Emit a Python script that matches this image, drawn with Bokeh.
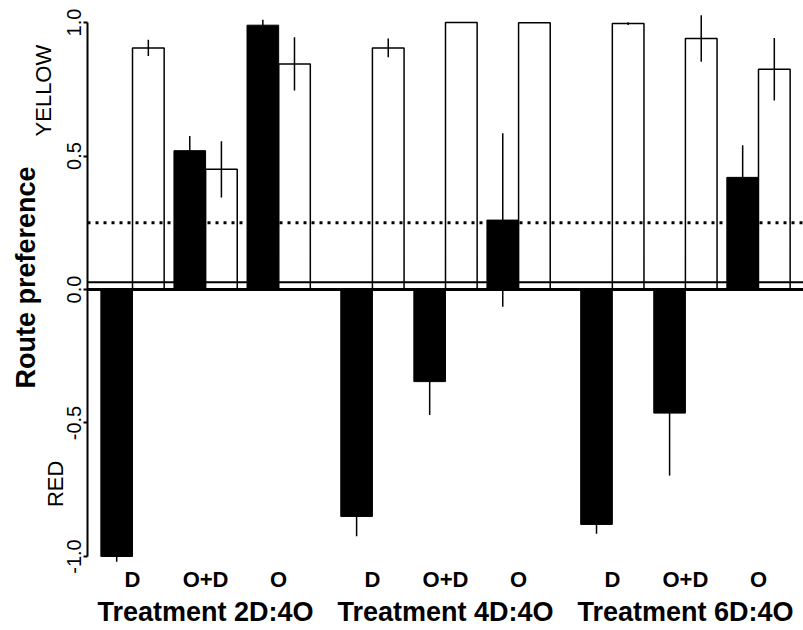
import numpy as np
from bokeh.plotting import figure
from bokeh.models import (ColumnDataSource, FactorRange, Range1d, Span, LinearAxis,
                          FixedTicker, PrintfTickFormatter)
from bokeh.transform import dodge
from bokeh.embed import file_html
from bokeh.resources import INLINE

# ---- data ----
treatments = ["Treatment 2D:4O", "Treatment 4D:4O", "Treatment 6D:4O"]
conditions = ["D", "O+D", "O"]
black_vals = [-1.00, 0.52, 0.99, -0.85, -0.345, 0.26, -0.88, -0.463, 0.42]
black_err = [0.02, 0.055, 0.02, 0.074, 0.125, 0.325, 0.035, 0.234, 0.12]
white_vals = [0.905, 0.45, 0.845, 0.905, 1.00, 0.999, 0.996, 0.94, 0.825]
white_err = [0.03, 0.105, 0.10, 0.035, 0.0, 0.0, 0.005, 0.087, 0.117]
yticks = [-1.0, -0.5, 0.0, 0.5, 1.0]
solid_ref = 0.027
dotted_ref = 0.25
side_labels = {"YELLOW": 0.745, "RED": -0.728, "Route preference": 0.045}

factors = [(t, c) for t in treatments for c in conditions]
bv, be = np.array(black_vals), np.array(black_err)
wv, we = np.array(white_vals), np.array(white_err)
src = ColumnDataSource(dict(
    x=factors, black=bv, black_lo=bv - be, black_hi=bv + be,
    white=wv, white_lo=wv - we, white_hi=wv + we))

FONT = "Liberation Sans"

p = figure(width=803, height=630, output_backend="svg", toolbar_location=None,
           x_range=FactorRange(*factors, factor_padding=0.0, group_padding=0.283,
                               range_padding=0.116, range_padding_units="absolute"),
           y_range=Range1d(-1.030, 1.045),
           min_border_left=87, min_border_right=0, min_border_top=10,
           min_border_bottom=66)
p.outline_line_color = None
p.xgrid.visible = False
p.ygrid.visible = False
p.background_fill_color = "white"

off = 0.2165
bw = 0.433
xb = dodge("x", -off, range=p.x_range)
xw = dodge("x", off, range=p.x_range)

p.vbar(x=xw, top="white", width=bw, source=src, fill_color="white",
       line_color="black", line_width=1.5)
p.vbar(x=xb, top="black", width=bw, source=src, fill_color="black",
       line_color="black", line_width=1)
p.segment(x0=xw, x1=xw, y0="white_lo", y1="white_hi", source=src,
          line_color="black", line_width=1.5)
p.segment(x0=xb, x1=xb, y0="black_lo", y1="black_hi", source=src,
          line_color="black", line_width=1.5)

p.add_layout(Span(location=0.0, dimension="width", line_color="black", line_width=3))
p.add_layout(Span(location=solid_ref, dimension="width", line_color="black", line_width=2))
p.add_layout(Span(location=dotted_ref, dimension="width", line_color="black",
                  line_width=3, line_dash="3 5"))

# main y axis
ya = p.yaxis[0]
ya.ticker = FixedTicker(ticks=yticks, minor_ticks=[])
ya.formatter = PrintfTickFormatter(format="%.1f")
ya.bounds = (-1.0, 1.0)
ya.axis_line_width = 2
ya.axis_line_color = "black"
ya.major_tick_line_width = 2
ya.major_tick_out = 4
ya.major_tick_in = 0
ya.major_label_orientation = "vertical"
ya.major_label_standoff = 2
ya.major_label_text_font = FONT
ya.major_label_text_font_size = "20px"
ya.major_label_text_color = "black"


def side_axis(word, standoff, size="22px", style="normal"):
    loc = side_labels[word]
    return LinearAxis(ticker=FixedTicker(ticks=[loc], minor_ticks=[]),
                      major_label_overrides={loc: word},
                      axis_line_color=None, major_tick_line_color=None,
                      minor_tick_line_color=None, major_tick_out=0, major_tick_in=0,
                      major_label_orientation="vertical",
                      major_label_standoff=standoff,
                      major_label_text_font=FONT, major_label_text_font_size=size,
                      major_label_text_font_style=style,
                      major_label_text_color="black")


p.add_layout(side_axis("RED", -4), "left")
p.add_layout(side_axis("YELLOW", -16), "left")
p.add_layout(side_axis("Route preference", -13, "27px", "bold"), "left")

# x axis
xa = p.xaxis[0]
xa.axis_line_color = None
xa.major_tick_line_color = None
xa.minor_tick_line_color = None
xa.major_tick_out = 0
xa.major_tick_in = 0
xa.separator_line_color = None
xa.major_label_standoff = 2
xa.major_label_text_font = FONT
xa.major_label_text_font_style = "bold"
xa.major_label_text_font_size = "22px"
xa.major_label_text_color = "black"
xa.group_text_font = FONT
xa.group_text_font_style = "bold"
xa.group_text_font_size = "27px"
xa.group_text_color = "black"

open("out.html", "w").write(file_html(p, INLINE))
